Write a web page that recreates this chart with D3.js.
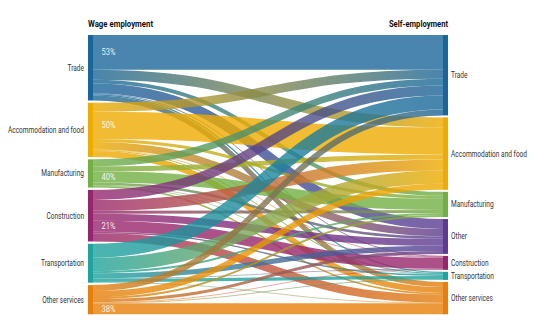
<!DOCTYPE html>
<html>
<head>
<meta charset="utf-8">
<script src="https://cdn.jsdelivr.net/npm/d3@7"></script>
<style>
  html, body { margin: 0; padding: 0; background: #fff; }
  svg { display: block; }
  text { font-family: Roboto, "Liberation Sans", sans-serif; }
</style>
</head>
<body>
<svg id="chart" width="533" height="330"></svg>
<script>
// ---- data ----
const leftSectors  = ["Trade", "Accommodation and food", "Manufacturing", "Construction", "Transportation", "Other services"];
const rightSectors = ["Trade", "Accommodation and food", "Manufacturing", "Other", "Construction", "Transportation", "Other services"];
// flows from each wage-employment sector to self-employment sectors (order = rightSectors)
const fromTrade          = [34.8, 10.0, 4.0, 9.9, 0.8, 1.2, 5.0];
const fromAccommodation  = [9.0, 27.2, 3.0, 7.5, 0.6, 1.0, 6.0];
const fromManufacturing  = [7.0, 5.0, 11.3, 2.5, 0.6, 0.4, 1.5];
const fromConstruction   = [10.0, 11.0, 3.0, 7.0, 10.9, 1.5, 8.3];
const fromTransportation = [13.9, 13.5, 2.0, 5.1, 0.6, 3.3, 0.6];
const fromOtherServices  = [6.0, 6.0, 2.0, 3.0, 0.5, 0.7, 11.1];
const flowRows = [fromTrade, fromAccommodation, fromManufacturing, fromConstruction, fromTransportation, fromOtherServices];
// share staying in the same sector, shown on the left
const stayLabels = ["53%", "50%", "40%", "21%", null, "38%"];
const sectorColors = {
  "Trade": "#1b6699",
  "Accommodation and food": "#eeab00",
  "Manufacturing": "#72b043",
  "Construction": "#98256c",
  "Transportation": "#1ea39e",
  "Other services": "#e6800a",
  "Other": "#5d3b92"
};
const leftTitle = "Wage employment";
const rightTitle = "Self-employment";

// ---- layout ----
const svg = d3.select("#chart");
const topY = 35, bottomY = 314.3;
const xLeft = 88, xRight = 443, nodeW = 5;
const pad = 2;

const links = [];
flowRows.forEach((row, i) => row.forEach((v, j) => links.push({ s: i, t: j, value: v })));

const leftTotals = leftSectors.map((_, i) => d3.sum(flowRows[i]));
const rightTotals = rightSectors.map((_, j) => d3.sum(flowRows, r => r[j]));
const total = d3.sum(rightTotals);
const k = d3.scaleLinear().domain([0, total]).range([0, (bottomY - topY) - pad * (rightSectors.length - 1)]);
const padL = ((bottomY - topY) - k(d3.sum(leftTotals))) / (leftSectors.length - 1);

function stack(totals, p) {
  let y = topY;
  return totals.map(v => { const n = { y0: y, y1: y + k(v) }; y = n.y1 + p; return n; });
}
const leftNodes = stack(leftTotals, padL);
const rightNodes = stack(rightTotals, pad);

// link positions: source side sorted by target order, target side by source order
leftNodes.forEach((n, i) => {
  let y = n.y0;
  links.filter(l => l.s === i).sort((a, b) => a.t - b.t).forEach(l => { l.w = k(l.value); l.sy = y + l.w / 2; y += l.w; });
});
rightNodes.forEach((n, j) => {
  let y = n.y0;
  links.filter(l => l.t === j).sort((a, b) => a.s - b.s).forEach(l => { l.ty = y + l.w / 2; y += l.w; });
});

const defs = svg.append("defs");
const x0 = xLeft + nodeW, x1 = xRight;
const linkGen = d3.linkHorizontal().x(d => d[0]).y(d => d[1]);

const gLinks = svg.append("g").attr("fill", "none").attr("stroke-opacity", 0.8);
links.forEach((l, idx) => {
  const id = "g" + idx;
  const grad = defs.append("linearGradient").attr("id", id)
    .attr("gradientUnits", "userSpaceOnUse").attr("x1", x0).attr("x2", x1);
  grad.append("stop").attr("offset", "0%").attr("stop-color", sectorColors[leftSectors[l.s]]);
  grad.append("stop").attr("offset", "100%").attr("stop-color", sectorColors[rightSectors[l.t]]);
  gLinks.append("path")
    .attr("d", linkGen({ source: [x0, l.sy], target: [x1, l.ty] }))
    .attr("stroke", `url(#${id})`)
    .attr("stroke-width", Math.max(0.6, l.w));
});

// nodes
svg.append("g").selectAll("rect").data(leftNodes).join("rect")
  .attr("x", xLeft).attr("width", nodeW)
  .attr("y", d => d.y0).attr("height", d => d.y1 - d.y0)
  .attr("fill", (d, i) => sectorColors[leftSectors[i]]);
svg.append("g").selectAll("rect").data(rightNodes).join("rect")
  .attr("x", xRight).attr("width", nodeW)
  .attr("y", d => d.y0).attr("height", d => d.y1 - d.y0)
  .attr("fill", (d, j) => sectorColors[rightSectors[j]]);

// condensed look: squeeze glyphs horizontally
function condense(sel, f) {
  sel.each(function () {
    const w = this.getComputedTextLength();
    d3.select(this).attr("textLength", w * f).attr("lengthAdjust", "spacingAndGlyphs");
  });
}

// node labels
svg.append("g").selectAll("text").data(leftNodes).join("text")
  .attr("x", xLeft - 4).attr("y", d => (d.y0 + d.y1) / 2)
  .attr("dy", "0.35em").attr("text-anchor", "end")
  .attr("font-size", 8.3).attr("fill", "#333")
  .text((d, i) => leftSectors[i])
  .call(condense, 0.79);
svg.append("g").selectAll("text").data(rightNodes).join("text")
  .attr("x", xRight + nodeW + 3).attr("y", d => (d.y0 + d.y1) / 2)
  .attr("dy", "0.35em").attr("text-anchor", "start")
  .attr("font-size", 8.3).attr("fill", "#333")
  .text((d, j) => rightSectors[j])
  .call(condense, 0.79);

// stay percentages
const stayLinks = leftSectors.map((name, i) => links.find(l => l.s === i && rightSectors[l.t] === name));
svg.append("g").selectAll("text").data(stayLinks.filter((l, i) => stayLabels[i]))
  .join("text")
  .attr("x", xLeft + 13.5).attr("y", d => d.sy)
  .attr("dy", "0.35em").attr("font-size", 8.5).attr("fill", "#fff").attr("fill-opacity", 0.9)
  .text(d => stayLabels[d.s])
  .call(condense, 0.88);

// titles
svg.append("text").attr("x", xLeft).attr("y", 27)
  .attr("font-size", 9.5).attr("font-weight", "bold").attr("fill", "#111").text(leftTitle)
  .call(condense, 0.82);
svg.append("text").attr("x", xRight + nodeW).attr("y", 27).attr("text-anchor", "end")
  .attr("font-size", 9.5).attr("font-weight", "bold").attr("fill", "#111").text(rightTitle)
  .call(condense, 0.8);
</script>
</body>
</html>
